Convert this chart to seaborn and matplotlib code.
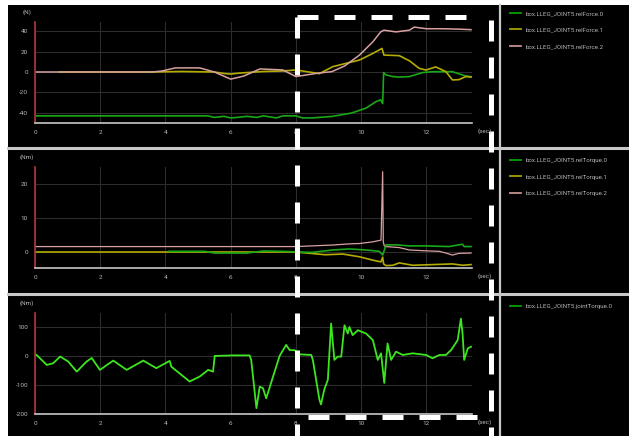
import matplotlib
matplotlib.use("Agg")
import matplotlib.pyplot as plt
from matplotlib.lines import Line2D
from matplotlib.patches import Rectangle
import seaborn as sns
import pandas as pd

# ---------------- data ----------------
# Panel 1: relForce (N)
force0_t = [0, 5.3, 5.5, 5.8, 6.0, 6.2, 6.5, 6.8, 7.0, 7.4, 7.6, 8.0, 8.2, 8.5, 9.1, 9.7, 10.15, 10.46, 10.6, 10.66,
            10.69, 10.76, 10.97, 11.17, 11.48, 11.88, 12.19, 12.8, 13.2, 13.37]
force0_v = [-43, -43, -44.5, -43.5, -45, -44.5, -43.5, -44.5, -43, -45, -43, -43, -45, -45, -43.6, -40.3, -35.4, -29,
            -27.3, -31, -0.6, -2.8, -4.5, -5, -4.5, -0.6, 0.3, 0.3, -3.9, -4.5]
force1_t = [0.75, 3.6, 4.5, 5.5, 5.8, 6.0, 6.3, 7.0, 7.6, 8.0, 8.2, 8.72, 9.13, 9.54, 9.95, 10.36, 10.64, 10.7,
            11.17, 11.48, 11.78, 11.99, 12.29, 12.6, 12.8, 13.0, 13.21, 13.37]
force1_v = [0, 0, 0.5, 0, -1.5, -2, -1, 0.5, 1, 2, 1, -1.6, 5.2, 8.5, 11.7, 18.2, 23.1, 16.6, 16, 11, 3.6, 1.9, 5,
            0.3, -7.8, -7.5, -4.5, -5]
force2_t = [0, 3.6, 3.9, 4.3, 5.05, 5.5, 6.0, 6.4, 6.9, 7.6, 8.0, 8.3, 8.7, 9.1, 9.5, 9.95, 10.36, 10.6, 10.7,
            11.07, 11.48, 11.63, 12.0, 12.5, 13.0, 13.37]
force2_v = [0, 0, 1, 4, 4, 0, -7, -4, 3, 2, -4.5, -3, -1, 0.3, 6, 16.6, 29.6, 39.3, 41, 39.3, 41, 44, 42.4, 42.4,
            42, 41.5]

# Panel 2: relTorque (Nm)
torque0_t = [4.1, 5.2, 5.5, 6.5, 7.0, 7.6, 8.1, 8.5, 9.13, 9.64, 10.15, 10.56, 10.66, 10.71, 10.76, 11.07, 11.48,
             12.0, 12.7, 13.11, 13.16, 13.37]
torque0_v = [0.2, 0.2, -0.3, -0.3, 0.3, 0.2, 0, -0.1, 0.6, 0.9, 0.6, 0.2, -0.9, 0.5, 2.1, 2.1, 1.8, 1.8, 1.6, 2.3,
             1.6, 1.6]
torque1_t = [0, 8.0, 8.9, 9.44, 9.95, 10.36, 10.61, 10.66, 10.69, 10.76, 10.97, 11.17, 11.58, 12.19, 12.8, 13.11,
             13.37]
torque1_v = [0, 0, -0.8, -0.6, -1.4, -2.4, -2.9, -1.5, -3.5, -4.0, -3.9, -3.2, -3.9, -3.7, -3.5, -3.9, -3.7]
torque2_t = [0, 8.0, 9.13, 9.64, 9.95, 10.36, 10.61, 10.66, 10.68, 10.71, 10.76, 11.17, 11.48, 11.88, 12.4, 12.6,
             12.8, 13.0, 13.37]
torque2_v = [1.6, 1.6, 2.06, 2.4, 2.5, 3.0, 3.5, 23.6, 3.0, 1.8, 1.6, 1.3, 0.6, 0.4, 0.2, -0.3, -0.9, -0.4, -0.3]

# Panel 3: jointTorque (Nm)
joint_t = [0, 0.05, 0.36, 0.56, 0.77, 1.02, 1.28, 1.58, 1.74, 1.99, 2.4, 2.81, 3.32, 3.72, 4.13, 4.18, 4.74, 5.05,
           5.31, 5.46, 5.51, 6.07, 6.58, 6.63, 6.79, 6.89, 6.99, 7.09, 7.3, 7.5, 7.7, 7.81, 7.96, 8.11, 8.47, 8.52,
           8.72, 8.77, 8.87, 8.98, 9.08, 9.18, 9.28, 9.39, 9.49, 9.59, 9.64, 9.74, 9.9, 10.15, 10.36, 10.51, 10.61,
           10.71, 10.81, 10.92, 11.07, 11.28, 11.58, 11.99, 12.19, 12.4, 12.6, 12.76, 12.96, 13.06, 13.11, 13.16,
           13.27, 13.37]
joint_v = [5.7, 3.4, -31, -25, -2, -19.5, -54, -19.5, -7, -48, -16, -48, -16, -42, -17, -37, -88, -71, -48, -54, 0,
           2, 2, -14, -180, -106, -111, -146, -71, 0, 38, 20, 20, 5.7, 3.4, -13.7, -150, -167, -116, -82, 111.6,
           -13.7, -2.3, -2.3, 105.8, 77.4, 100, 71.7, 88.7, 77.4, 54.6, -13.7, 9.1, -93, 43.2, -13.7, 14.8, 3.4,
           9.1, 3.4, -8, 3.4, 3.4, 20.5, 54.6, 128.6, 77.4, -13.7, 26, 31.8]

force_labels = ["box.LLEG_JOINT5.relForce.0", "box.LLEG_JOINT5.relForce.1", "box.LLEG_JOINT5.relForce.2"]
torque_labels = ["box.LLEG_JOINT5.relTorque.0", "box.LLEG_JOINT5.relTorque.1", "box.LLEG_JOINT5.relTorque.2"]
joint_labels = ["box.LLEG_JOINT5.jointTorque.0"]
x_ticks = [0, 2, 4, 6, 8, 10, 12]
y_ticks_force = [-40, -20, 0, 20, 40]
y_ticks_torque = [0, 10, 20]
y_ticks_joint = [-200, -100, 0, 100]

# ---------------- figure ----------------
W, H = 629, 436
plt.rcParams['font.family'] = ['Roboto', 'DejaVu Sans']
fig = plt.figure(figsize=(W / 100, H / 100), dpi=100, facecolor='white')


def fx(px):
    return px / W


def fy(py):
    return 1 - py / H


fig.add_artist(Rectangle((fx(8), 0), 1 - fx(8), fy(5), transform=fig.transFigure,
                         facecolor='black', edgecolor='none', zorder=0))

GREEN = '#18a818'
YELLOW = '#b4ac00'
PINK = '#d8a0a0'
LIME = '#3ce61e'
TXT = '#b8b8b8'


def make_axes(top, bottom, ylim, yticks, unit, series, legend_labels, legend_colors, legend_top):
    ax = fig.add_axes([fx(35), fy(bottom), fx(472) - fx(35), (bottom - top) / H])
    ax.set_facecolor('black')
    for (t, v, c, lw) in series:
        df = pd.DataFrame({'t': t, 'v': v})
        sns.lineplot(data=df, x='t', y='v', ax=ax, color=c, linewidth=lw, sort=False,
                     estimator=None, legend=False)
    ax.set_xlim(0, 13.4)
    ax.set_ylim(*ylim)
    ax.set_xticks(x_ticks)
    ax.set_yticks(yticks)
    ax.set_xticklabels([str(x) for x in x_ticks])
    ax.set_yticklabels([str(y) for y in yticks])
    ax.tick_params(length=0, labelsize=4.6, colors=TXT, pad=5)
    ax.grid(True, color='#2c2c2c', linewidth=0.8)
    ax.set_axisbelow(True)
    ax.set_xlabel('')
    ax.set_ylabel('')
    for s in ['top', 'right']:
        ax.spines[s].set_visible(False)
    ax.spines['left'].set_color('#b03434')
    ax.spines['left'].set_linewidth(1.2)
    ax.spines['bottom'].set_color('#c8c8c8')
    ax.spines['bottom'].set_linewidth(1.2)
    fig.text(fx(27), fy(top - 10), unit, fontsize=4.6, color=TXT, ha='center', va='center')
    fig.text(fx(485), fy(bottom + 8), '(sec)', fontsize=4.6, color=TXT, ha='center', va='center')
    handles = [Line2D([], [], color=c, linewidth=1.3) for c in legend_colors]
    ax.legend(handles, legend_labels, loc='upper left', bbox_to_anchor=(fx(510), fy(legend_top)),
              bbox_transform=fig.transFigure, frameon=False, fontsize=4.4, labelcolor=TXT,
              handlelength=1.8, handletextpad=0.8, labelspacing=1.8, borderaxespad=0, borderpad=0)
    return ax


make_axes(22, 123, (-50, 49), y_ticks_force, '(N)',
          [(force0_t, force0_v, GREEN, 1.2), (force1_t, force1_v, YELLOW, 1.2), (force2_t, force2_v, PINK, 1.1)],
          force_labels, ['#00a000', '#a8a000', '#c89090'], 11)
make_axes(167, 268, (-4.7, 25), y_ticks_torque, '(Nm)',
          [(torque2_t, torque2_v, PINK, 0.9), (torque1_t, torque1_v, YELLOW, 1.2), (torque0_t, torque0_v, GREEN, 1.2)],
          torque_labels, ['#00a000', '#a8a000', '#c89090'], 158)
make_axes(313, 414, (-200, 148), y_ticks_joint, '(Nm)',
          [(joint_t, joint_v, LIME, 1.3)],
          joint_labels, ['#00a000'], 304)

# separators
for y in (148, 294):
    fig.add_artist(Line2D([fx(8), 1], [fy(y), fy(y)], transform=fig.transFigure, color='#c8c8c8', lw=2.2))
fig.add_artist(Line2D([fx(500), fx(500)], [fy(5), 0], transform=fig.transFigure, color='#c8c8c8', lw=1.6))

# dashed white highlight box
dash = dict(transform=fig.transFigure, color='white', lw=3.6, linestyle=(0, (4.2, 3.2)))
fig.add_artist(Line2D([fx(297), fx(297)], [fy(17), 0], **dash))
fig.add_artist(Line2D([fx(297), fx(480)], [fy(17), fy(17)], **dash))
fig.add_artist(Line2D([fx(491), fx(491)], [fy(20), 0], **dash))
fig.add_artist(Line2D([fx(308), fx(480)], [fy(417), fy(417)], **dash))

fig.savefig('out.png', dpi=100, facecolor='white')
